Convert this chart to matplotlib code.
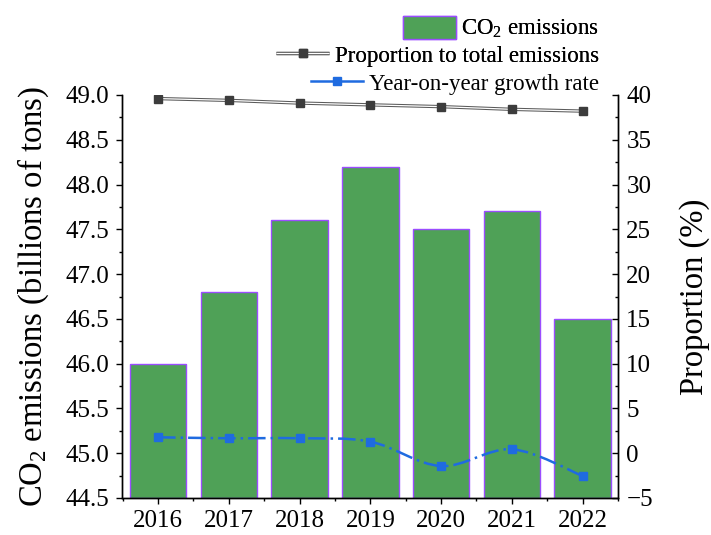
import numpy as np
import matplotlib
matplotlib.use("Agg")
import matplotlib.pyplot as plt
from matplotlib.path import Path
from matplotlib.patches import PathPatch, Patch
from matplotlib.lines import Line2D
from matplotlib.legend_handler import HandlerTuple
from matplotlib.ticker import MultipleLocator, FormatStrFormatter

plt.rcParams['font.family'] = ['Liberation Serif', 'DejaVu Serif']
plt.rcParams['mathtext.default'] = 'regular'

# ---- data ----
years = [2016, 2017, 2018, 2019, 2020, 2021, 2022]
emissions = [46.0, 46.8, 47.6, 48.2, 47.5, 47.7, 46.5]          # billions of tons
proportion = [39.6, 39.4, 39.1, 38.9, 38.7, 38.4, 38.2]          # % of total
growth = [1.78, 1.67, 1.67, 1.29, -1.43, 0.44, -2.54]            # % year-on-year

left_lim = (44.5, 49.0)
right_lim = (-5, 40)

bar_face = '#4fa157'
bar_edge = '#9b4dff'
gray_line = '#5a5a5a'
gray_mk = '#3c3c3c'
blue = '#1f6be0'


def smooth_path(x, y):
    """Catmull-Rom spline through the points, as cubic Bezier segments."""
    p = np.column_stack([np.asarray(x, float), np.asarray(y, float)])
    ext = np.vstack([p[0], p, p[-1]])
    verts = [p[0]]
    codes = [Path.MOVETO]
    for i in range(len(p) - 1):
        p0, p1, p2, p3 = ext[i], ext[i + 1], ext[i + 2], ext[i + 3]
        verts += [p1 + (p2 - p0) / 6.0, p2 - (p3 - p1) / 6.0, p2]
        codes += [Path.CURVE4] * 3
    return Path(verts, codes)


fig = plt.figure(figsize=(7.11, 5.35), dpi=100)
ax = fig.add_axes([122 / 711, 37 / 535, 496 / 711, 403 / 535])
ax2 = ax.twinx()

# bars rise from the bottom of the left axis
base = left_lim[0]
ax.bar(years, np.array(emissions) - base, bottom=base, width=0.8,
       color=bar_face, edgecolor=bar_edge, linewidth=1.0, zorder=2)

ax.set_xlim(2015.49, 2022.5)
ax.set_ylim(*left_lim)
ax.set_xticks(years)
ax.set_xticklabels([str(y) for y in years])
ax.xaxis.set_minor_locator(MultipleLocator(0.5))
ax.yaxis.set_major_locator(MultipleLocator(0.5))
ax.yaxis.set_minor_locator(MultipleLocator(0.25))
ax.yaxis.set_major_formatter(FormatStrFormatter('%.1f'))

ax.tick_params(axis='both', which='major', direction='out', length=4.5,
               width=1.0, labelsize=18, colors='black')
ax.tick_params(axis='y', which='major', pad=5)
ax.tick_params(axis='x', which='major', pad=4)
ax.tick_params(axis='both', which='minor', direction='out', length=2.5, width=1.0)
ax.set_ylabel('CO$_2$ emissions (billions of tons)', fontsize=23.5, labelpad=10)

for a in (ax, ax2):
    a.spines['top'].set_visible(False)
    for s in ('left', 'right', 'bottom'):
        a.spines[s].set_linewidth(1.0)

# right axis: proportion and growth rate
ax2.set_ylim(*right_lim)
ax2.yaxis.set_major_locator(MultipleLocator(5))
ax2.yaxis.set_minor_locator(MultipleLocator(2.5))
ax2.tick_params(axis='y', which='major', direction='in', length=4.5, width=1.0,
                labelsize=18, pad=6)
ax2.tick_params(axis='y', which='minor', direction='in', length=2.5, width=1.0)
ax2.set_ylabel('Proportion (%)', fontsize=23.5, labelpad=19)

# proportion: hollow double line with square markers
ax2.plot(years, proportion, color=gray_line, lw=2.4, solid_capstyle='butt', zorder=3)
ax2.plot(years, proportion, color='white', lw=0.9, solid_capstyle='butt', zorder=4)
ax2.plot(years, proportion, ls='none', marker='s', ms=6.2, color=gray_mk, zorder=5)

# growth rate: smoothed dash-dot curve with square markers
curve = PathPatch(smooth_path(years, growth), fill=False, edgecolor=blue,
                  linewidth=1.8, linestyle=(0, (7, 2, 1, 2)), zorder=3)
ax2.add_patch(curve)
ax2.plot(years, growth, ls='none', marker='s', ms=6.2, color=blue, zorder=5)

# legend, one right-aligned row per series
leg_kw = dict(loc='center right', frameon=False, fontsize=16.5, borderpad=0,
              borderaxespad=0, handletextpad=0.25, handlelength=2.3)

h_bar = Patch(facecolor=bar_face, edgecolor=bar_edge, linewidth=1.0)
l1 = fig.legend([h_bar], ['CO$_2$ emissions'], bbox_to_anchor=(599 / 711, 1 - 28 / 535),
                handleheight=1.18, **leg_kw)
fig.add_artist(l1)

h_prop = (Line2D([], [], color=gray_line, lw=2.4, solid_capstyle='butt'),
          Line2D([], [], color='white', lw=0.9, solid_capstyle='butt'),
          Line2D([], [], ls='none', marker='s', ms=6.2, color=gray_mk))
l2 = fig.legend([h_prop], ['Proportion to total emissions'],
                bbox_to_anchor=(599 / 711, 1 - 56 / 535),
                handler_map={tuple: HandlerTuple(ndivide=1)}, **leg_kw)
fig.add_artist(l2)

h_grow = Line2D([], [], color=blue, lw=1.8, marker='s', ms=6.2)
l3 = fig.legend([h_grow], ['Year-on-year growth rate'],
                bbox_to_anchor=(599 / 711, 1 - 84 / 535), **leg_kw)

fig.savefig('out.png', dpi=100)
